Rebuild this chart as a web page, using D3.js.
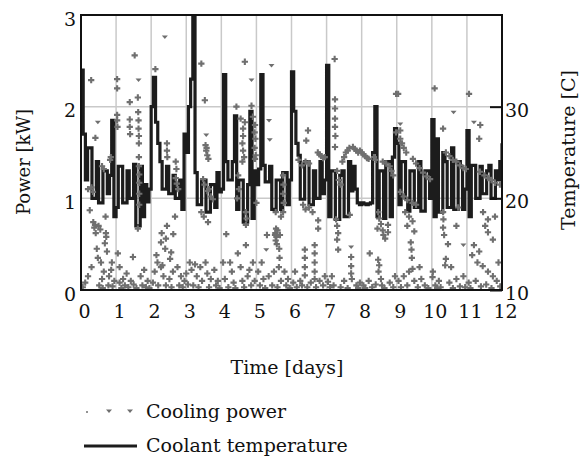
<!DOCTYPE html>
<html>
<head>
<meta charset="utf-8">
<script src="https://cdn.jsdelivr.net/npm/d3@7"></script>
<style>
	body { margin: 0; background: #fff; }
	svg text { font-family: "DejaVu Serif", serif; fill: #111; }
</style>
</head>
<body>
<div id="chart"></div>
<script>
// x axis (days) and axis ticks
const dayTicks = [0, 1, 2, 3, 4, 5, 6, 7, 8, 9, 10, 11, 12];
const powerTicks = [0, 1, 2, 3];
const tempTicks = [10, 20, 30];

// coolant temperature [C], sampled every 1/16 day, one row per day
const tempStep = 1 / 16;
const coolantTemp = [
	34, 27, 22, 25.5, 25.5, 20, 20, 24, 19.5, 19.5, 23, 23, 20.5, 22.5, 28.5, 18,
	19, 23.5, 23.5, 19.5, 19.5, 23, 20, 20, 23.7, 17, 17, 23.5, 18, 21.5, 19.6, 21,
	30, 33.2, 28.3, 26, 24, 21, 21, 23.5, 20.5, 20.5, 22.5, 20, 20, 22, 18.8, 27,
	25, 30, 33, 40, 22.8, 19.3, 19.3, 22, 22, 18.5, 18.5, 21.5, 21.5, 19, 22.8, 20.7,
	21, 33.5, 24, 22, 22, 24, 29, 18.8, 22, 22, 17.4, 17.4, 21.5, 29.5, 17.8, 23,
	21.5, 23.2, 33.5, 23.6, 21.8, 21.8, 23.5, 18.8, 18.8, 22, 22, 18.8, 22.8, 22.8, 19.3, 22,
	33.8, 29.5, 26, 24.7, 19.9, 19.9, 24, 24, 19.3, 19.3, 23, 20, 20, 24, 20.5, 22,
	34.5, 18, 23, 23, 17.7, 17.7, 22.5, 23, 18, 18, 24, 20.8, 23.5, 21, 19.5, 19.3,
	19.5, 19.4, 19.3, 19.4, 19.5, 25, 30, 18, 23, 23, 17.8, 24, 24, 18, 24.5, 27.6,
	26, 19.3, 24, 24, 20, 18.6, 23, 23, 19, 19, 24, 18.6, 18.6, 23, 23, 20,
	28.6, 18, 26.5, 18.5, 18.5, 25, 24, 19, 19, 25.5, 18.8, 18.8, 24, 23.5, 18.8, 21,
	27.4, 18, 23.6, 23.6, 20, 20, 23.5, 20.5, 20.5, 23, 23.6, 20, 20, 23, 22, 24,
	26,
];

// cooling power [kW] samples as [day, kW]
const coolingPower = [
	[0.05,0.03],[0.12,0.08],[0.2,0.15],[0.25,0.87],[0.29,2.29],[0.3,0.25],[0.35,0.74],[0.38,0.68],[0.4,0.71],[0.42,0.62],[0.41,1.66],[0.45,0.45],[0.48,0.35],[0.5,0.7],[0.52,0.05],[0.55,0.66],[0.57,0.3],[0.6,0.12],[0.62,0.02],[0.65,0.2],[0.68,0.51],[0.7,0.8],[0.71,0.62],[0.72,0.58],[0.74,0.42],[0.78,0.05],[0.8,0.15],[0.83,1.42],[0.85,1.45],[0.88,0.3],[0.9,0.04],[0.95,0.1],[0.6,1.35],[0.65,1.32],[0.2,1.1],[0.3,1.12],[0.34,1.07],[1.1,0.25],[0.86,0.22],
	[1.03,2.3],[1.03,2.2],[1.03,1.91],[1.03,1.85],[1.04,1.78],[1.05,0.4],[1.1,0.08],[1.15,0.02],[1.2,0.12],[1.25,0.05],[1.3,0.18],[1.35,0.03],[1.39,2.05],[1.39,1.86],[1.39,1.78],[1.4,1.7],[1.42,0.1],[1.48,0.36],[1.5,0.06],[1.53,2.56],[1.58,0.02],[1.62,2.1],[1.63,1.94],[1.64,1.85],[1.64,1.76],[1.65,1.68],[1.65,1.6],[1.65,1.45],[1.65,1.35],[1.66,1.26],[1.66,1.17],[1.66,1.05],[1.66,0.93],[1.62,0.67],[1.7,0.15],[1.75,0.05],[1.8,0.22],[1.85,0.03],[1.9,0.1],[1.95,0.02],
	[2.12,2.41],[2.05,0.08],[2.1,0.2],[2.15,0.38],[2.18,0.3],[2.2,0.05],[2.28,0.52],[2.3,0.62],[2.32,0.27],[2.35,0.15],[2.42,0.56],[2.4,0.45],[2.42,0.05],[2.45,1.6],[2.45,1.52],[2.46,1.45],[2.54,0.34],[2.52,0.12],[2.57,0.41],[2.58,0.03],[2.62,0.2],[2.63,0.61],[2.68,0.8],[2.7,1.4],[2.72,1.32],[2.7,1.22],[2.73,1.16],[2.77,1.1],[2.75,0.25],[2.8,0.05],[2.85,0.15],[2.9,0.03],[2.95,0.1],[2.45,0.7],[2.28,0.25],
	[3.43,2.47],[3.53,2.07],[3.55,1.58],[3.57,1.52],[3.6,1.47],[3.63,1.43],[3.58,1.55],[3.48,1.21],[3.52,1.15],[3.6,1.08],[3.7,1.02],[3.76,0.99],[3.65,1.1],[3.43,0.85],[3.5,0.8],[3.62,0.74],[3.1,0.3],[3.15,0.22],[3.2,0.05],[3.25,0.28],[3.3,0.15],[3.35,0.03],[3.4,0.25],[3.45,0.1],[3.55,0.3],[3.6,0.18],[3.65,0.03],[3.7,0.12],[3.8,0.22],[3.85,0.05],[3.9,0.1],[3.95,0.02],[3.05,0.06],[3.0,0.18],
	[4.67,2.49],[4.43,2.0],[4.55,1.87],[4.67,1.83],[4.62,1.76],[4.62,1.68],[4.6,1.6],[4.62,1.52],[4.65,1.45],[4.6,1.4],[4.86,2.01],[4.9,1.89],[4.96,1.8],[4.95,1.72],[4.97,1.65],[4.95,1.55],[4.98,1.47],[4.96,1.43],[4.48,1.25],[4.5,1.1],[4.45,1.0],[4.7,0.85],[4.72,0.78],[4.7,0.71],[4.14,0.61],[4.7,0.49],[4.47,0.4],[4.05,0.3],[4.1,0.12],[4.2,0.03],[4.3,0.2],[4.35,0.08],[4.4,0.02],[4.55,0.25],[4.6,0.1],[4.65,0.03],[4.75,0.15],[4.8,0.22],[4.85,0.05],[4.9,0.3],[4.95,0.1],[4.25,0.3],
	[5.76,1.25],[5.77,1.15],[5.76,1.05],[5.78,0.95],[5.76,0.85],[5.55,0.85],[5.7,0.8],[5.56,0.67],[5.54,0.62],[5.57,0.58],[5.55,0.54],[5.58,0.5],[5.53,0.6],[5.6,0.65],[5.67,0.6],[5.65,0.45],[5.66,0.35],[5.64,0.25],[5.05,0.2],[5.1,0.05],[5.15,0.3],[5.2,0.12],[5.25,0.02],[5.35,0.15],[5.45,0.05],[5.5,0.2],[5.6,0.03],[5.7,0.1],[5.8,0.2],[5.85,0.05],[5.9,0.12],[5.95,0.02],[5.3,0.6],[5.0,0.95],
	[6.47,1.74],[6.42,1.63],[6.75,1.5],[6.8,1.48],[6.85,1.46],[6.9,1.44],[6.95,1.45],[6.2,1.42],[6.3,1.36],[6.4,1.4],[6.5,1.38],[6.33,0.93],[6.4,0.88],[6.5,0.9],[6.6,0.85],[6.76,0.76],[6.76,0.67],[6.38,0.44],[6.38,0.35],[6.38,0.25],[6.38,0.16],[6.66,0.49],[6.66,0.4],[6.66,0.3],[6.66,0.2],[6.66,0.12],[6.05,0.08],[6.1,0.2],[6.15,0.03],[6.25,0.1],[6.3,0.05],[6.45,0.03],[6.55,0.08],[6.7,0.03],[6.8,0.1],[6.9,0.05],[6.95,0.15],
	[7.23,2.52],[7.24,2.08],[7.24,1.98],[7.24,1.87],[7.24,1.78],[7.25,1.68],[7.24,1.56],[7.3,1.3],[7.35,1.2],[7.4,1.15],[7.27,0.77],[7.3,0.7],[7.33,0.62],[7.3,0.55],[7.33,0.44],[7.66,0.82],[7.7,0.36],[7.7,0.26],[7.7,0.18],[7.72,0.12],[7.8,1.54],[7.85,1.52],[7.9,1.5],[7.95,1.52],[8.0,1.5],[7.5,1.45],[7.55,1.5],[7.6,1.52],[7.45,1.4],[7.65,1.55],[7.75,1.56],[7.04,0.09],[7.1,0.03],[7.15,0.15],[7.2,0.05],[7.4,0.03],[7.5,0.1],[7.6,0.02],[7.85,0.05],[7.9,0.02],[7.95,0.08],
	[8.05,1.48],[8.1,1.46],[8.15,1.44],[8.2,1.43],[8.23,0.4],[8.47,0.85],[8.5,0.78],[8.55,0.72],[8.6,0.65],[8.62,0.6],[8.67,0.56],[8.75,0.71],[8.75,0.63],[8.45,0.67],[8.47,0.33],[8.5,0.27],[8.48,0.2],[8.55,0.12],[8.58,0.05],[8.98,2.14],[8.98,1.72],[8.8,1.35],[8.85,1.3],[8.9,1.25],[8.6,1.4],[8.7,1.38],[8.05,0.05],[8.1,0.02],[8.2,0.1],[8.3,0.03],[8.4,0.06],[8.65,0.02],[8.8,0.08],[8.9,0.03],[8.95,0.15],[8.35,1.45],[8.4,1.42],
	[9.04,2.14],[9.1,1.74],[9.1,1.65],[9.15,1.6],[9.2,1.55],[9.27,1.5],[9.46,1.43],[9.55,1.38],[9.65,1.33],[9.75,1.28],[9.85,1.24],[9.95,1.21],[9.1,1.07],[9.2,1.02],[9.3,0.98],[9.45,0.95],[9.55,0.93],[9.24,0.85],[9.35,0.8],[9.45,0.75],[9.3,0.7],[9.5,0.64],[9.4,0.52],[9.42,0.44],[9.43,0.35],[9.45,0.23],[9.05,0.1],[9.12,0.03],[9.2,0.15],[9.3,0.05],[9.35,0.2],[9.5,0.1],[9.6,0.03],[9.7,0.12],[9.8,0.05],[9.9,0.02],[9.65,0.25],
	[10.08,2.2],[10.32,1.76],[10.4,1.5],[10.5,1.46],[10.6,1.42],[10.7,1.4],[10.8,1.36],[10.9,1.33],[10.97,1.32],[10.32,0.85],[10.33,0.77],[10.32,0.68],[10.35,0.6],[10.46,0.5],[10.4,0.34],[10.38,0.27],[10.03,0.2],[10.02,0.14],[10.1,0.05],[10.15,0.02],[10.2,0.1],[10.25,0.03],[10.5,0.08],[10.6,0.02],[10.7,0.12],[10.8,0.04],[10.9,0.15],[10.95,0.03],[10.55,0.25],[10.7,0.7],[10.75,0.9],
	[11.06,2.14],[11.38,1.8],[11.35,1.65],[11.37,1.29],[11.5,1.25],[11.6,1.22],[11.7,1.2],[11.8,1.17],[11.94,1.15],[11.46,0.85],[11.6,0.77],[11.52,0.7],[11.6,0.63],[11.74,0.55],[11.2,0.49],[11.35,0.42],[11.15,0.38],[11.3,0.3],[11.45,0.26],[11.6,0.2],[11.74,0.15],[11.05,0.08],[11.1,0.02],[11.25,0.1],[11.4,0.04],[11.55,0.06],[11.7,0.02],[11.85,0.1],[11.95,0.04],[11.9,0.3],[11.8,0.8],
];

// a few samples show up as small down triangles
const coolingPowerTri = [
	[0.48,1.83],[1.64,2.29],[2.39,2.76],[3.57,1.69],[4.86,2.29],[5.43,2.45],[5.36,1.85],[5.38,1.64],[5.28,0.44],[7.7,0.47],[9.1,1.81],[10.62,1.94],[10.9,0.49],[11.2,1.83],
];

const width = 583,
	height = 462;
const plot = { left: 81, right: 502, top: 15, bottom: 290 };

let svg = d3.select("#chart").append("svg").attr("width", width).attr("height", height);

let x = d3.scaleLinear().domain([0, 12]).range([plot.left, plot.right]);
let yPower = d3.scaleLinear().domain([0, 3]).range([plot.bottom, plot.top]);
let yTemp = d3.scaleLinear().domain([10, 40]).range([plot.bottom, plot.top]);

svg.append("clipPath").attr("id", "clip").append("rect")
	.attr("x", plot.left).attr("y", plot.top)
	.attr("width", plot.right - plot.left).attr("height", plot.bottom - plot.top);

// grid
let grid = svg.append("g").attr("stroke", "#c9c9c9").attr("stroke-width", 1.5);
grid.selectAll(".vgrid")
	.data(dayTicks.slice(1, -1))
	.enter()
	.append("line")
	.attr("x1", (d) => x(d)).attr("x2", (d) => x(d))
	.attr("y1", plot.top).attr("y2", plot.bottom);
grid.selectAll(".hgrid")
	.data([1, 2])
	.enter()
	.append("line")
	.attr("x1", plot.left).attr("x2", plot.right)
	.attr("y1", (d) => yPower(d)).attr("y2", (d) => yPower(d));

let marks = svg.append("g").attr("clip-path", "url(#clip)");

// coolant temperature line
let line = d3.line()
	.x((d, i) => x(i * tempStep))
	.y((d) => yTemp(d))
	.curve(d3.curveStepAfter);

marks.append("path")
	.datum(coolantTemp)
	.attr("d", line)
	.attr("fill", "none")
	.attr("stroke", "#1c1c1c")
	.attr("stroke-width", 3.2);

// cooling power scatter, drawn over the line
let cross = d3.symbol().type(d3.symbolCross).size(22);
marks.append("g")
	.selectAll("path")
	.data(coolingPower)
	.enter()
	.append("path")
	.attr("d", cross)
	.attr("transform", (d) => `translate(${x(d[0])},${yPower(d[1])})`)
	.attr("fill", "#6f6f6f");

marks.append("g")
	.selectAll("path")
	.data(coolingPowerTri)
	.enter()
	.append("path")
	.attr("d", "M-3,-1.5L3,-1.5L0,2Z")
	.attr("transform", (d) => `translate(${x(d[0])},${yPower(d[1])})`)
	.attr("fill", "#6f6f6f");

// frame
svg.append("rect")
	.attr("x", plot.left).attr("y", plot.top)
	.attr("width", plot.right - plot.left).attr("height", plot.bottom - plot.top)
	.attr("fill", "none").attr("stroke", "#111").attr("stroke-width", 2);

// axes
let xAxis = d3.axisBottom(x).tickValues(dayTicks).tickSize(0).tickPadding(15).tickFormat(d3.format("d"));
let gx = svg.append("g").attr("transform", `translate(3,${plot.bottom})`).call(xAxis);

let leftAxis = d3.axisLeft(yPower).tickValues(powerTicks).tickSize(0).tickPadding(5).tickFormat(d3.format("d"));
let gl = svg.append("g").attr("transform", `translate(${plot.left},4)`).call(leftAxis);

let rightAxis = d3.axisLeft(yTemp).tickValues(tempTicks).tickSize(12).tickFormat(d3.format("d"));
let gr = svg.append("g").attr("transform", `translate(${plot.right},0)`).call(rightAxis);
gr.selectAll("text").attr("x", 3).attr("dy", "0.5em").style("text-anchor", "start");
gr.selectAll("line").attr("stroke", "#111").attr("stroke-width", 2);

[gx, gl, gr].forEach((g) => {
	g.select(".domain").remove();
	g.selectAll("text").style("font-size", "19px").style("font-family", "DejaVu Serif").attr("fill", "#111");
});

// axis titles
svg.append("text")
	.attr("transform", "translate(30,162) rotate(-90)")
	.attr("text-anchor", "middle")
	.style("font-size", "18px")
	.text("Power [kW]");
svg.append("text")
	.attr("transform", "translate(575,150) rotate(-90)")
	.attr("text-anchor", "middle")
	.style("font-size", "19px")
	.text("Temperature [C]");
svg.append("text")
	.attr("x", 287).attr("y", 374)
	.attr("text-anchor", "middle")
	.style("font-size", "19px")
	.text("Time [days]");

// legend
let legend = svg.append("g");
legend.append("circle").attr("cx", 87).attr("cy", 412).attr("r", 1).attr("fill", "#6f6f6f");
legend.selectAll(".ltri")
	.data([109, 130])
	.enter()
	.append("path")
	.attr("d", "M-3,-1.5L3,-1.5L0,2Z")
	.attr("transform", (d) => `translate(${d},411)`)
	.attr("fill", "#6f6f6f");
legend.append("text").attr("x", 146).attr("y", 418).style("font-size", "19px").text("Cooling power");
legend.append("line")
	.attr("x1", 84).attr("x2", 137)
	.attr("y1", 446).attr("y2", 446)
	.attr("stroke", "#1c1c1c").attr("stroke-width", 3);
legend.append("text").attr("x", 146).attr("y", 452).style("font-size", "19px").text("Coolant temperature");
</script>
</body>
</html>
